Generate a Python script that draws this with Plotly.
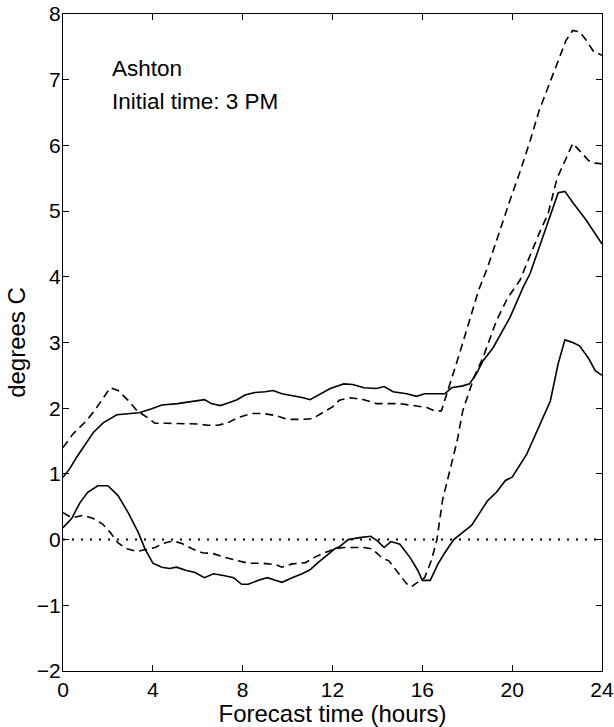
import plotly.graph_objects as go

# Upper solid curve
a_x = [0, 0.3, 0.6, 1.0, 1.35, 1.8, 2.4, 3.0, 3.4, 3.95, 4.4, 5.1, 5.8, 6.3, 6.6, 7.0, 7.35, 7.75,
       8.1, 8.55, 9.0, 9.35, 9.75, 10.3, 10.7, 11.0, 11.45, 11.9, 12.5, 12.9, 13.4, 13.95, 14.3,
       14.7, 15.3, 15.75, 16.1, 16.6, 17.0, 17.3, 17.8, 18.1, 18.4, 18.7, 19.15, 19.9, 20.5, 20.8,
       21.2, 21.6, 22.05, 22.35, 22.7, 23.3, 24]
a_y = [0.95, 1.08, 1.25, 1.46, 1.63, 1.78, 1.9, 1.92, 1.93, 1.99, 2.05, 2.07, 2.1, 2.13, 2.07, 2.04,
       2.08, 2.13, 2.2, 2.24, 2.25, 2.27, 2.22, 2.19, 2.16, 2.13, 2.22, 2.3, 2.37, 2.36, 2.31, 2.3,
       2.33, 2.25, 2.22, 2.18, 2.22, 2.22, 2.22, 2.31, 2.34, 2.37, 2.52, 2.72, 2.92, 3.38, 3.85, 4.05,
       4.45, 4.86, 5.28, 5.3, 5.13, 4.86, 4.5]

# Upper dashed curve
b_x = [0, 0.45, 1.05, 1.5, 2.1, 2.45, 2.9, 3.3, 3.75, 4.1, 4.6, 5.1, 5.5, 6.0, 6.45, 6.9, 7.35, 7.8,
       8.4, 8.9, 9.45, 10.0, 10.65, 11.1, 11.5, 12.0, 12.3, 12.8, 13.4, 13.95, 14.55, 15.0, 15.6,
       16.2, 16.55, 16.85, 17.7, 18.5, 18.9, 19.4, 19.9, 20.35, 20.8, 21.2, 21.6, 22.1, 22.4, 22.7,
       23.0, 23.3, 23.6, 24]
b_y = [1.4, 1.61, 1.81, 2.01, 2.31, 2.27, 2.12, 1.96, 1.86, 1.77, 1.77, 1.77, 1.77, 1.76, 1.74, 1.74,
       1.78, 1.86, 1.92, 1.92, 1.89, 1.83, 1.83, 1.84, 1.92, 2.02, 2.12, 2.16, 2.13, 2.07, 2.07, 2.07,
       2.04, 2.01, 1.96, 1.96, 2.88, 3.79, 4.14, 4.66, 5.16, 5.6, 6.07, 6.53, 6.88, 7.34, 7.6, 7.75,
       7.73, 7.6, 7.44, 7.37]

# Lower solid curve
c_x = [0, 0.4, 0.75, 1.1, 1.55, 2.0, 2.45, 2.9, 3.35, 3.65, 4.0, 4.4, 4.75, 5.05, 5.5, 5.88, 6.3,
       6.7, 7.2, 7.6, 7.95, 8.25, 8.7, 9.1, 9.45, 9.75, 10.2, 10.65, 11.0, 11.35, 11.75, 12.1, 12.3,
       12.7, 13.2, 13.7, 14.0, 14.3, 14.6, 15.0, 15.45, 15.8, 16.0, 16.35, 16.7, 17.0, 17.4, 18.2,
       18.9, 19.3, 19.7, 20.0, 20.65, 21.3, 21.7, 22.05, 22.35, 22.7, 23.0, 23.4, 23.7, 24]
c_y = [0.18, 0.33, 0.56, 0.72, 0.82, 0.82, 0.67, 0.41, 0.11, -0.14, -0.36, -0.42, -0.44, -0.42,
       -0.47, -0.5, -0.58, -0.52, -0.55, -0.58, -0.68, -0.68, -0.62, -0.58, -0.62, -0.65, -0.58,
       -0.52, -0.46, -0.35, -0.24, -0.14, -0.11, 0.0, 0.03, 0.05, -0.02, -0.12, -0.03, -0.07, -0.27,
       -0.47, -0.62, -0.62, -0.37, -0.2, 0.0, 0.22, 0.59, 0.72, 0.9, 0.95, 1.3, 1.81, 2.11, 2.68,
       3.04, 3.0, 2.95, 2.76, 2.57, 2.5]

# Lower dashed curve
d_x = [0, 0.4, 0.9, 1.35, 1.75, 2.1, 2.45, 2.85, 3.3, 3.75, 4.1, 4.45, 4.9, 5.3, 5.75, 6.2, 6.65,
       7.2, 7.8, 8.25, 8.9, 9.45, 9.75, 10.2, 10.8, 11.2, 11.65, 12.1, 12.5, 12.9, 13.4, 13.75,
       14.25, 14.5, 14.9, 15.3, 15.5, 15.8, 16.1, 16.4, 16.65, 16.9, 17.2, 17.55, 17.8, 18.3, 18.7,
       19.0, 19.3, 19.8, 20.35, 21.2, 21.6, 22.0, 22.3, 22.7, 23.0, 23.4, 23.7, 24]
d_y = [0.41, 0.33, 0.37, 0.32, 0.24, 0.11, -0.05, -0.14, -0.18, -0.15, -0.12, -0.06, -0.02, -0.06,
       -0.14, -0.2, -0.21, -0.27, -0.32, -0.36, -0.36, -0.38, -0.42, -0.37, -0.35, -0.27, -0.2,
       -0.14, -0.12, -0.12, -0.12, -0.14, -0.29, -0.32, -0.5, -0.67, -0.72, -0.65, -0.58, -0.32, 0.0,
       0.6, 1.0, 1.5, 1.96, 2.47, 2.77, 3.06, 3.33, 3.68, 3.95, 4.66, 4.96, 5.5, 5.72, 6.03, 5.92,
       5.77, 5.73, 5.72]

zero_x = [0, 24]
zero_y = [0, 0]

x_ticks = [0, 4, 8, 12, 16, 20, 24]
y_ticks = [-2, -1, 0, 1, 2, 3, 4, 5, 6, 7, 8]

FONT = "Liberation Sans, Arial, Helvetica, sans-serif"

fig = go.Figure()
fig.add_trace(go.Scatter(x=zero_x, y=zero_y, mode="lines",
                         line=dict(color="black", width=2, dash="2px,7px")))
for xs, ys, dash in [(a_x, a_y, "solid"), (b_x, b_y, "8px,5px"),
                     (c_x, c_y, "solid"), (d_x, d_y, "8px,5px")]:
    fig.add_trace(go.Scatter(x=xs, y=ys, mode="lines",
                             line=dict(color="black", width=1.6, dash=dash)))

axis_common = dict(showgrid=False, zeroline=False, showline=True, linecolor="black",
                   linewidth=1.3, mirror="ticks", ticks="inside", ticklen=6,
                   tickcolor="black", tickwidth=1.2, automargin=False,
                   tickfont=dict(family=FONT, size=21, color="black"))

fig.update_layout(
    width=614, height=727,
    margin=dict(l=63, r=12, t=14, b=56),
    paper_bgcolor="white", plot_bgcolor="white",
    showlegend=False,
    font=dict(family=FONT, color="black"),
    xaxis=dict(range=[0, 24], tickvals=x_ticks, ticklabelstandoff=0,
               title=dict(text="Forecast time (hours)", font=dict(family=FONT, size=24),
                          standoff=0),
               **axis_common),
    yaxis=dict(range=[-2, 8], tickvals=y_ticks, ticklabelstandoff=-3,
               title=dict(text="degrees C", font=dict(family=FONT, size=24), standoff=4),
               **axis_common),
    annotations=[
        dict(x=2.1, y=7.17, xref="x", yref="y", text="Ashton", showarrow=False,
             xanchor="left", yanchor="middle", font=dict(family=FONT, size=22.5, color="black")),
        dict(x=2.1, y=6.67, xref="x", yref="y", text="Initial time: 3 PM", showarrow=False,
             xanchor="left", yanchor="middle", font=dict(family=FONT, size=22.5, color="black")),
    ],
)

fig.write_html("out.html", config={"displayModeBar": False},
               post_script="document.body.style.margin='0';document.body.style.overflow='hidden';")
